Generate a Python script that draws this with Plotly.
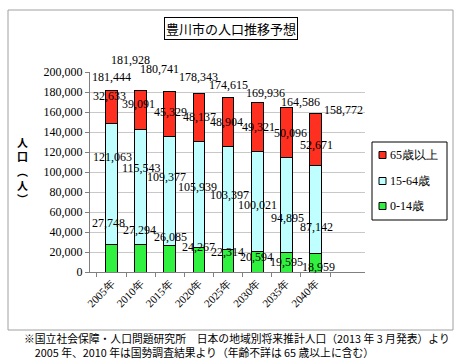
import plotly.graph_objects as go

years = ["2005年", "2010年", "2015年", "2020年", "2025年", "2030年", "2035年", "2040年"]
age_0_14 = [27748, 27294, 26085, 24267, 22314, 20594, 19595, 18959]
age_15_64 = [121063, 115543, 109377, 105939, 103397, 100021, 94895, 87142]
age_65_plus = [32633, 39091, 45329, 48137, 48904, 49321, 50096, 52671]
totals = [181444, 181928, 180741, 178343, 174615, 169936, 164586, 158772]
y_ticks = [0, 20000, 40000, 60000, 80000, 100000, 120000, 140000, 160000, 180000, 200000]

# label nudges (pixels) to mimic the original label placement
green_dx = [-3, -1, 1, 0, -1, -1, 0, 3]
green_dy = [35, 28, 22, 13, 9, 5, 0, -4]
cyan_dx = [1, 1, -3, -1, 1, 0, 1, 1]
cyan_dy = [27, 19, 14, 8, 3, -4, -13, -18]
red_dx = [-2, -2, 1, 1, -2, 1, 4, 1]
red_dy = [11, 6, 2, 1, 0, 0, -1, -5]
tot_dx = [0, -10, -10, 0, 0, 8, 14, 28]
tot_dy = [14, 30, 22, 17, 12, 9, 5, 3]

RED = "#FF3020"
CYAN = "#C0FFFF"
GREEN = "#30F040"
SERIF = "Liberation Serif, DejaVu Serif, serif"
CJK = "Noto Sans CJK JP"

# plot area in pixels (for converting layout positions to paper coords)
PL, PR, PT, PB = 90, 365, 72, 272
def px(xp):
    return (xp - PL) / (PR - PL)
def py(yp):
    return (PB - yp) / (PB - PT)

series = [("0-14歳", age_0_14, GREEN), ("15-64歳", age_15_64, CYAN), ("65歳以上", age_65_plus, RED)]

fig = go.Figure()
for name, vals, col in series:
    fig.add_trace(go.Bar(
        x=years, y=vals, name=name, showlegend=False,
        marker=dict(color=col, line=dict(color="black", width=1)),
        width=0.4,
    ))

ann = []
shapes = []
def fmt(v):
    return f"{v:,}"

for i, yr in enumerate(years):
    g = age_0_14[i]
    c = age_15_64[i]
    r = age_65_plus[i]
    for val, ycen, dx, dy in [
        (g, g / 2, green_dx[i], green_dy[i]),
        (c, g + c / 2, cyan_dx[i], cyan_dy[i]),
        (r, g + c + r / 2, red_dx[i], red_dy[i]),
        (totals[i], totals[i], tot_dx[i], tot_dy[i]),
    ]:
        ann.append(dict(x=yr, y=ycen, xref="x", yref="y", text=fmt(val), showarrow=False,
                        xanchor="center", yanchor="middle",
                        xshift=dx, yshift=dy, font=dict(family=SERIF, size=12, color="black")))

# title
ann.append(dict(x=px(231), y=py(28), xref="paper", yref="paper", text="豊川市の人口推移予想", showarrow=False,
                xanchor="center", yanchor="middle",
                font=dict(family=CJK, size=13, color="black"), bordercolor="black", borderwidth=1,
                borderpad=1, bgcolor="white"))
# y-axis title
ann.append(dict(x=px(22), y=py(170), xref="paper", yref="paper", text="人<br>口<br>︵<br>人<br>︶", showarrow=False,
                xanchor="center", yanchor="middle",
                font=dict(family=CJK, size=11, color="black", weight="bold"), align="center"))
# footnote (two lines in one text block)
ann.append(dict(x=px(22), y=py(345), xref="paper", yref="paper", xanchor="left", yanchor="middle",
                text="※国立社会保障・人口問題研究所　日本の地域別将来推計人口（2013 年 3 月発表）より"
                     "<br>　2005 年、2010 年は国勢調査結果より（年齢不詳は 65 歳以上に含む）",
                align="left", showarrow=False, font=dict(family=CJK, size=10.8, color="black")))

# outer chart border
shapes.append(dict(type="rect", xref="paper", yref="paper", x0=px(8), x1=px(453), y0=py(330), y1=py(10),
                   line=dict(color="#A0A0A0", width=1), layer="below"))
# legend (built by hand: box, swatches, labels), top item = 65歳以上
shapes.append(dict(type="rect", xref="paper", yref="paper", x0=px(372), x1=px(447), y0=py(220), y1=py(142),
                   line=dict(color="black", width=1), fillcolor="white", layer="above"))
legend_rows = [155, 181, 206]
for (name, vals, col), row in zip(reversed(series), legend_rows):
    shapes.append(dict(type="rect", xref="paper", yref="paper", x0=px(379), x1=px(386),
                       y0=py(row + 3.5), y1=py(row - 3.5), line=dict(color="black", width=1),
                       fillcolor=col, layer="above"))
    ann.append(dict(x=px(388), y=py(row), xref="paper", yref="paper", xanchor="left", yanchor="middle",
                    text=name, showarrow=False, font=dict(family=SERIF, size=12, color="black")))

fig.update_layout(
    barmode="stack",
    width=471, height=359,
    margin=dict(l=PL, r=471 - PR, t=PT, b=359 - PB, autoexpand=False),
    paper_bgcolor="white", plot_bgcolor="white",
    showlegend=False,
    annotations=ann,
    shapes=shapes,
)
fig.update_xaxes(
    type="category", tickangle=-45, showline=True, linecolor="#808080", linewidth=1,
    ticks="outside", tickson="boundaries", ticklen=4, tickcolor="#808080",
    tickfont=dict(family=SERIF, size=11, color="black"), showgrid=False, automargin=False,
)
fig.update_yaxes(
    range=[0, 200000], tickvals=y_ticks, ticktext=[fmt(v) for v in y_ticks],
    showline=True, linecolor="#808080", linewidth=1, ticks="outside", ticklen=4, tickcolor="#808080",
    showgrid=True, gridcolor="#C8C8C8", gridwidth=1, zeroline=False, automargin=False,
    tickfont=dict(family=SERIF, size=12, color="black"),
)

fig.write_html("out.html", config={"displayModeBar": False},
               post_script="document.body.style.margin='0';")
